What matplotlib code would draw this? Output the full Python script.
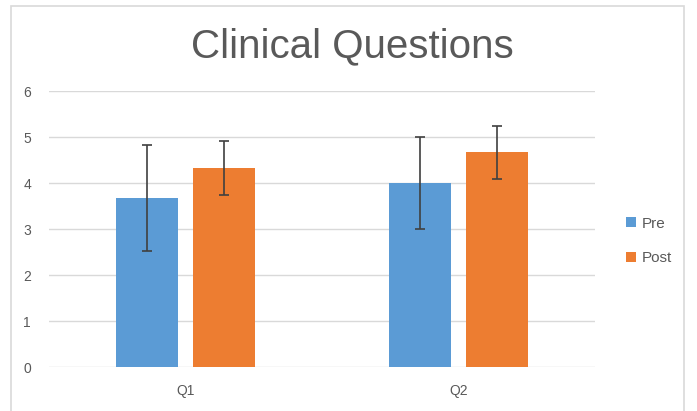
import numpy as np
import matplotlib.pyplot as plt
from matplotlib.patches import Rectangle

categories = ['Q1', 'Q2']
pre = [3.67, 4.0]
post = [4.33, 4.67]
pre_err = [1.15, 1.0]
post_err = [0.58, 0.58]

W, H = 697, 411
fig = plt.figure(figsize=(W / 100, H / 100), dpi=100)
plt.rcParams['font.family'] = ['Liberation Sans', 'DejaVu Sans']

# chart-area border like the spreadsheet export
fig.patches.append(Rectangle((11 / W, -0.05), (684 - 11) / W, 1.05 - 6 / H,
                             transform=fig.transFigure, fill=False,
                             edgecolor='#d9d9d9', linewidth=1.2))

ax = fig.add_axes([49 / W, (H - 367) / H, (595 - 49) / W, (367 - 91) / H])

x = np.arange(len(categories))
w = 0.225
off = 0.141
ekw = dict(ecolor='#404040', elinewidth=1.2, capsize=3.5, capthick=1.2)
ax.bar(x - off, pre, w, yerr=pre_err, color='#5B9BD5', label='Pre', error_kw=ekw, zorder=2)
ax.bar(x + off, post, w, yerr=post_err, color='#ED7D31', label='Post', error_kw=ekw, zorder=2)

ax.set_xlim(-0.5, 1.5)
ax.set_ylim(0, 6)
ax.set_yticks(range(7))
ax.set_xticks(x)
ax.set_xticklabels(categories)
ax.grid(axis='y', color='#d9d9d9', linewidth=1, zorder=0)
for s in ax.spines.values():
    s.set_visible(False)
ax.tick_params(length=0, labelsize=10, labelcolor='#595959')
ax.tick_params(axis='y', pad=13)
ax.tick_params(axis='x', pad=12)

fig.text(352 / W, 1 - 57 / H, 'Clinical Questions', ha='center', va='baseline',
         fontsize=29, color='#595959')

ax.legend(loc='center left', bbox_to_anchor=(612 / W, 1 - 241 / H),
          bbox_transform=fig.transFigure, frameon=False, fontsize=11,
          labelcolor='#595959', handlelength=0.65, handleheight=0.65,
          handletextpad=0.4, labelspacing=1.35)

fig.savefig('out.png', dpi=100)
